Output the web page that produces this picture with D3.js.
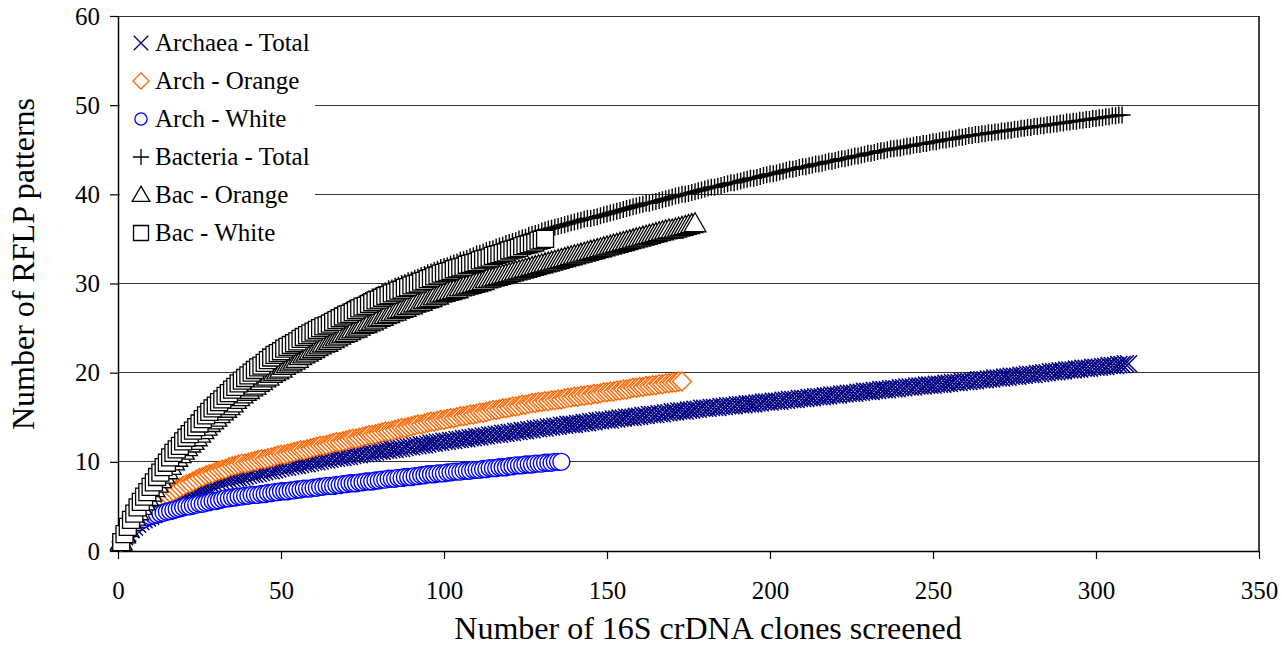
<!DOCTYPE html>
<html>
<head>
<meta charset="utf-8">
<script src="https://cdn.jsdelivr.net/npm/d3@7"></script>
<style>
  body { margin: 0; background: #fff; }
  svg text { font-family: "Liberation Serif", "Times New Roman", serif; fill: #000; }
</style>
</head>
<body>
<svg id="chart" width="1282" height="645"></svg>
<script>
// number of RFLP patterns after n clones screened, n = index + 1
var archTotal = [
  1.0,1.6,2.0,2.4,2.7,3.0,3.3,3.5,3.7,3.9, 4.1,4.3,4.5,4.8,5.0,5.2,5.4,5.6,5.8,6.0,
  6.1,6.3,6.4,6.6,6.7,6.9,7.0,7.1,7.3,7.4, 7.6,7.7,7.9,8.0,8.1,8.2,8.2,8.3,8.4,8.5,
  8.6,8.6,8.7,8.8,8.9,9.0,9.0,9.1,9.2,9.3, 9.4,9.4,9.5,9.6,9.6,9.7,9.8,9.8,9.9,10.0,
  10.0,10.1,10.2,10.2,10.3,10.4,10.4,10.5,10.5,10.6, 10.6,10.7,10.8,10.8,10.9,10.9,11.0,11.0,11.1,11.2,
  11.2,11.3,11.3,11.4,11.4,11.5,11.5,11.6,11.7,11.7, 11.8,11.8,11.9,11.9,12.0,12.1,12.1,12.2,12.2,12.3,
  12.3,12.4,12.4,12.5,12.5,12.6,12.6,12.7,12.7,12.8, 12.8,12.9,12.9,13.0,13.0,13.1,13.1,13.2,13.2,13.3,
  13.3,13.4,13.4,13.5,13.5,13.6,13.6,13.7,13.7,13.8, 13.8,13.9,13.9,14.0,14.0,14.1,14.1,14.2,14.2,14.2,
  14.3,14.3,14.4,14.4,14.5,14.5,14.6,14.6,14.7,14.7, 14.7,14.8,14.8,14.9,14.9,15.0,15.0,15.0,15.1,15.1,
  15.2,15.2,15.3,15.3,15.3,15.4,15.4,15.5,15.5,15.6, 15.6,15.7,15.7,15.7,15.8,15.8,15.9,15.9,16.0,16.0,
  16.0,16.1,16.1,16.1,16.2,16.2,16.3,16.3,16.3,16.4, 16.4,16.4,16.5,16.5,16.5,16.6,16.6,16.7,16.7,16.7,
  16.8,16.8,16.8,16.9,16.9,17.0,17.0,17.0,17.1,17.1, 17.1,17.2,17.2,17.3,17.3,17.3,17.4,17.4,17.5,17.5,
  17.5,17.6,17.6,17.7,17.7,17.7,17.8,17.8,17.9,17.9, 17.9,18.0,18.0,18.1,18.1,18.1,18.2,18.2,18.2,18.3,
  18.3,18.4,18.4,18.4,18.5,18.5,18.5,18.6,18.6,18.6, 18.7,18.7,18.7,18.8,18.8,18.9,18.9,18.9,19.0,19.0,
  19.0,19.1,19.1,19.2,19.2,19.2,19.3,19.3,19.4,19.4, 19.4,19.5,19.5,19.6,19.6,19.6,19.7,19.7,19.8,19.8,
  19.8,19.9,19.9,20.0,20.0,20.1,20.1,20.1,20.2,20.2, 20.3,20.3,20.3,20.4,20.4,20.5,20.5,20.5,20.6,20.6,
  20.6,20.7,20.7,20.8,20.8,20.8,20.9,20.9,21.0,21.0
];
var archOrange = [
  1.0,1.8,2.5,3.0,3.5,3.9,4.3,4.7,5.0,5.3, 5.6,5.8,6.0,6.2,6.3,6.5,6.7,6.9,7.1,7.3,
  7.5,7.6,7.8,8.0,8.2,8.3,8.5,8.6,8.7,8.9, 9.0,9.1,9.2,9.4,9.5,9.6,9.7,9.8,9.8,9.9,
  10.0,10.1,10.2,10.3,10.3,10.4,10.5,10.6,10.7,10.8, 10.8,10.9,11.0,11.1,11.2,11.3,11.3,11.4,11.5,11.6,
  11.7,11.8,11.8,11.9,12.0,12.1,12.2,12.2,12.3,12.4, 12.5,12.6,12.6,12.7,12.8,12.9,13.0,13.0,13.1,13.2,
  13.3,13.4,13.4,13.5,13.6,13.7,13.8,13.8,13.9,14.0, 14.1,14.2,14.2,14.3,14.4,14.5,14.5,14.6,14.7,14.7,
  14.8,14.9,14.9,15.0,15.1,15.1,15.2,15.3,15.3,15.4, 15.5,15.5,15.6,15.7,15.8,15.8,15.9,16.0,16.0,16.1,
  16.2,16.2,16.3,16.4,16.4,16.5,16.6,16.6,16.7,16.7, 16.8,16.8,16.9,16.9,17.0,17.0,17.1,17.2,17.2,17.3,
  17.3,17.4,17.4,17.5,17.5,17.6,17.6,17.7,17.8,17.8, 17.9,17.9,18.0,18.0,18.1,18.1,18.2,18.3,18.3,18.4,
  18.4,18.5,18.5,18.6,18.6,18.7,18.7,18.8,18.8,18.9, 18.9,19.0,19.0
];
var archWhite = [
  1.0,1.7,2.2,2.6,2.9,3.2,3.4,3.6,3.8,3.9, 4.0,4.1,4.2,4.3,4.4,4.5,4.6,4.7,4.8,4.9,
  5.0,5.0,5.1,5.2,5.3,5.3,5.4,5.5,5.6,5.6, 5.7,5.8,5.9,5.9,6.0,6.0,6.1,6.1,6.2,6.2,
  6.3,6.3,6.3,6.4,6.4,6.5,6.5,6.6,6.6,6.7, 6.7,6.7,6.8,6.8,6.9,6.9,7.0,7.0,7.0,7.1,
  7.1,7.2,7.2,7.3,7.3,7.3,7.4,7.4,7.5,7.5, 7.6,7.6,7.6,7.7,7.7,7.8,7.8,7.8,7.9,7.9,
  8.0,8.0,8.1,8.1,8.1,8.2,8.2,8.3,8.3,8.3, 8.4,8.4,8.5,8.5,8.6,8.6,8.6,8.7,8.7,8.7,
  8.8,8.8,8.9,8.9,8.9,9.0,9.0,9.0,9.1,9.1, 9.1,9.2,9.2,9.3,9.3,9.3,9.4,9.4,9.4,9.5,
  9.5,9.6,9.6,9.6,9.7,9.7,9.7,9.8,9.8,9.8, 9.9,9.9,9.9,10.0,10.0,10.0
];
var bacTotal = [
  1.0,1.9,2.7,3.4,4.1,4.8,5.4,6.0,6.5,7.1, 7.6,8.2,8.8,9.3,9.9,10.4,11.0,11.4,11.9,12.3,
  12.7,13.2,13.6,14.1,14.5,14.9,15.4,15.8,16.2,16.5, 16.9,17.2,17.6,18.0,18.3,18.7,19.0,19.4,19.7,20.0,
  20.3,20.6,20.9,21.1,21.4,21.7,22.0,22.3,22.5,22.8, 23.0,23.2,23.5,23.7,23.9,24.1,24.4,24.6,24.8,25.0,
  25.2,25.4,25.6,25.8,26.0,26.2,26.4,26.6,26.8,27.0, 27.2,27.3,27.5,27.7,27.9,28.1,28.3,28.5,28.6,28.8,
  29.0,29.2,29.4,29.5,29.7,29.8,30.0,30.1,30.3,30.4, 30.6,30.7,30.9,31.0,31.2,31.3,31.5,31.6,31.8,31.9,
  32.0,32.2,32.3,32.4,32.6,32.7,32.8,33.0,33.1,33.3, 33.4,33.5,33.7,33.8,33.9,34.1,34.2,34.3,34.5,34.6,
  34.7,34.8,35.0,35.1,35.2,35.4,35.5,35.6,35.7,35.9, 36.0,36.1,36.2,36.3,36.4,36.5,36.6,36.7,36.8,36.9,
  37.0,37.1,37.2,37.3,37.3,37.4,37.5,37.6,37.7,37.8, 37.9,38.0,38.1,38.2,38.3,38.4,38.5,38.6,38.7,38.8,
  38.9,39.0,39.0,39.1,39.2,39.3,39.4,39.5,39.6,39.7, 39.8,39.9,40.0,40.0,40.1,40.2,40.3,40.4,40.5,40.6,
  40.7,40.8,40.8,40.9,41.0,41.1,41.2,41.3,41.3,41.4, 41.5,41.6,41.7,41.8,41.8,41.9,42.0,42.1,42.2,42.3,
  42.3,42.4,42.5,42.6,42.7,42.8,42.8,42.9,43.0,43.1, 43.1,43.2,43.3,43.4,43.4,43.5,43.6,43.7,43.7,43.8,
  43.9,44.0,44.0,44.1,44.2,44.3,44.3,44.4,44.5,44.6, 44.6,44.7,44.8,44.9,44.9,45.0,45.1,45.1,45.2,45.2,
  45.3,45.4,45.4,45.5,45.6,45.6,45.7,45.7,45.8,45.9, 45.9,46.0,46.1,46.1,46.2,46.2,46.3,46.4,46.4,46.5,
  46.6,46.6,46.7,46.7,46.8,46.8,46.9,46.9,47.0,47.0, 47.1,47.1,47.2,47.2,47.3,47.3,47.4,47.4,47.5,47.5,
  47.6,47.6,47.7,47.7,47.8,47.8,47.9,47.9,48.0,48.0, 48.1,48.1,48.2,48.2,48.3,48.3,48.4,48.4,48.5,48.5,
  48.6,48.6,48.7,48.7,48.8,48.8,48.9,48.9
];
var bacOrange = [
  1.0,1.8,2.5,3.2,3.8,4.4,5.0,5.5,6.0,6.5, 7.0,7.5,8.0,8.5,9.0,9.5,10.0,10.4,10.8,11.2,
  11.6,12.0,12.3,12.7,13.1,13.5,13.9,14.3,14.6,14.9, 15.3,15.6,15.9,16.2,16.5,16.9,17.2,17.5,17.8,18.0,
  18.3,18.5,18.8,19.0,19.3,19.5,19.8,20.0,20.2,20.4, 20.7,20.9,21.1,21.3,21.5,21.8,22.0,22.2,22.4,22.6,
  22.8,23.0,23.2,23.3,23.5,23.7,23.9,24.1,24.3,24.4, 24.6,24.8,24.9,25.1,25.3,25.4,25.6,25.7,25.9,26.1,
  26.2,26.4,26.5,26.7,26.8,27.0,27.1,27.2,27.4,27.5, 27.7,27.8,27.9,28.1,28.2,28.3,28.5,28.6,28.8,28.9,
  29.0,29.1,29.2,29.3,29.5,29.6,29.7,29.8,29.9,30.0, 30.1,30.2,30.4,30.5,30.6,30.7,30.8,30.9,31.0,31.1,
  31.2,31.3,31.4,31.5,31.6,31.7,31.8,31.9,32.0,32.1, 32.2,32.3,32.4,32.5,32.6,32.7,32.8,32.9,33.0,33.1,
  33.2,33.3,33.4,33.5,33.6,33.7,33.8,33.9,34.0,34.1, 34.2,34.3,34.4,34.5,34.6,34.7,34.8,34.9,35.0,35.1,
  35.2,35.3,35.4,35.5,35.6,35.7,35.8,35.9,36.0,36.0, 36.1,36.2,36.3,36.4,36.5,36.6,36.7
];
var bacWhite = [
  1.0,1.9,2.7,3.5,4.2,4.9,5.5,6.1,6.6,7.2, 7.7,8.3,8.8,9.4,9.9,10.5,11.0,11.4,11.8,12.3,
  12.7,13.1,13.5,13.9,14.3,14.8,15.2,15.6,16.0,16.3, 16.7,17.0,17.4,17.7,18.1,18.4,18.8,19.1,19.4,19.7,
  20.0,20.3,20.6,20.8,21.1,21.4,21.7,22.0,22.2,22.4, 22.7,22.9,23.1,23.3,23.5,23.8,24.0,24.2,24.4,24.6,
  24.8,25.0,25.2,25.3,25.5,25.7,25.9,26.1,26.3,26.5, 26.6,26.8,27.0,27.2,27.4,27.5,27.7,27.9,28.1,28.2,
  28.4,28.6,28.7,28.9,29.0,29.2,29.3,29.5,29.6,29.8, 29.9,30.0,30.2,30.3,30.5,30.6,30.8,30.9,31.1,31.2,
  31.3,31.4,31.6,31.7,31.8,31.9,32.1,32.2,32.3,32.4, 32.6,32.7,32.8,32.9,33.1,33.2,33.3,33.4,33.5,33.7,
  33.8,33.9,34.0,34.2,34.3,34.4,34.5,34.6,34.8,34.9,35.0
];
var seriesNames = ["Archaea - Total", "Arch - Orange", "Arch - White", "Bacteria - Total", "Bac - Orange", "Bac - White"];
var xTicks = [0, 50, 100, 150, 200, 250, 300, 350];
var yTicks = [0, 10, 20, 30, 40, 50, 60];

var font = '"Liberation Serif", "Times New Roman", serif';

// marker shapes, k scales them down for the legend
var shapes = {
    cross: function(k) { var h = 8.5 * k; return "M" + -h + "," + -h + "L" + h + "," + h + "M" + -h + "," + h + "L" + h + "," + -h; },
    diamond: function(k) { var s = 9.5 * k; return "M0," + -s + "L" + s + ",0L0," + s + "L" + -s + ",0Z"; },
    circle: function(k) { var r = 8.5 * k; return "M" + r + ",0A" + r + "," + r + " 0 1,1 " + -r + ",0A" + r + "," + r + " 0 1,1 " + r + ",0Z"; },
    plus: function(k) { var h = 8.5 * k; return "M" + -h + ",0H" + h + "M0," + -h + "V" + h; },
    triangle: function(k) { var w = 11 * k, t = 11 * k, b = 8 * k; return "M0," + -t + "L" + w + "," + b + "L" + -w + "," + b + "Z"; },
    square: function(k) { var h = 8.5 * k; return "M" + -h + "," + -h + "H" + h + "V" + h + "H" + -h + "Z"; }
};

var series = [
    { name: seriesNames[0], values: archTotal, shape: "cross", stroke: "#000080", fill: "none", sw: 1.5, lk: 0.85 },
    { name: seriesNames[1], values: archOrange, shape: "diamond", stroke: "#FF6600", fill: "#fff", sw: 1.4, lk: 0.85 },
    { name: seriesNames[2], values: archWhite, shape: "circle", stroke: "#0000FF", fill: "#fff", sw: 1.4, lk: 0.72 },
    { name: seriesNames[3], values: bacTotal, shape: "plus", stroke: "#000", fill: "none", sw: 1.4, lk: 0.95 },
    { name: seriesNames[4], values: bacOrange, shape: "triangle", stroke: "#000", fill: "#fff", sw: 1.3, lk: 0.8 },
    { name: seriesNames[5], values: bacWhite, shape: "square", stroke: "#000", fill: "#fff", sw: 1.3, lk: 0.88 }
];

var x = d3.scaleLinear().domain([0, 350]).range([118, 1259]);
var y = d3.scaleLinear().domain([0, 60]).range([551, 16]);

var svg = d3.select("#chart");

// horizontal gridlines
svg.append("g")
    .selectAll("line")
    .data(yTicks.filter(function(d) { return d > 0; }))
    .enter()
    .append("line")
    .attr("x1", x(0))
    .attr("x2", x(350))
    .attr("y1", function(d) { return y(d); })
    .attr("y2", function(d) { return y(d); })
    .attr("stroke", "#333")
    .attr("stroke-width", 1)
    .attr("shape-rendering", "crispEdges");

// right border of the plot
svg.append("line")
    .attr("x1", x(350)).attr("x2", x(350))
    .attr("y1", y(60)).attr("y2", y(0))
    .attr("stroke", "#000")
    .attr("stroke-width", 1.5);

// axes
var yAxis = d3.axisLeft(y).tickValues(yTicks).tickSize(8).tickSizeOuter(0).tickPadding(10);
var gy = svg.append("g")
    .attr("transform", "translate(" + x(0) + ",0)")
    .call(yAxis);

var xAxis = d3.axisBottom(x).tickValues(xTicks).tickSize(8).tickSizeOuter(0).tickPadding(22);
var gx = svg.append("g")
    .attr("transform", "translate(0," + y(0) + ")")
    .call(xAxis);

[gy, gx].forEach(function(g) {
    g.attr("font-family", font).attr("font-size", 25);
    g.select(".domain").attr("stroke-width", 1.5);
    g.selectAll(".tick line").attr("stroke-width", 1.2);
});

// data markers, one per clone screened
series.forEach(function(s) {
    svg.append("g")
        .selectAll("path")
        .data(s.values)
        .enter()
        .append("path")
        .attr("d", shapes[s.shape](1))
        .attr("transform", function(d, i) {
            return "translate(" + x(i + 1) + "," + y(d) + ")";
        })
        .attr("fill", s.fill)
        .attr("stroke", s.stroke)
        .attr("stroke-width", s.sw);
});

// legend
var legend = svg.append("g");
legend.append("rect")
    .attr("x", 120).attr("y", 21)
    .attr("width", 195).attr("height", 232)
    .attr("fill", "#fff");

var rows = legend.selectAll("g.row")
    .data(series)
    .enter()
    .append("g")
    .attr("class", "row")
    .attr("transform", function(d, i) { return "translate(0," + (43 + i * 38) + ")"; });

rows.append("path")
    .attr("d", function(d) { return shapes[d.shape](d.lk); })
    .attr("transform", "translate(141,0)")
    .attr("fill", function(d) { return d.fill; })
    .attr("stroke", function(d) { return d.stroke; })
    .attr("stroke-width", 1.3);

rows.append("text")
    .attr("x", 155)
    .attr("y", 8)
    .attr("font-size", 25)
    .text(function(d) { return d.name; });

// axis titles
svg.append("text")
    .attr("x", 708)
    .attr("y", 639)
    .attr("text-anchor", "middle")
    .attr("font-size", 32)
    .text("Number of 16S crDNA clones screened");

svg.append("text")
    .attr("transform", "translate(34,264) rotate(-90)")
    .attr("text-anchor", "middle")
    .attr("font-size", 32)
    .text("Number of RFLP patterns");
</script>
</body>
</html>
